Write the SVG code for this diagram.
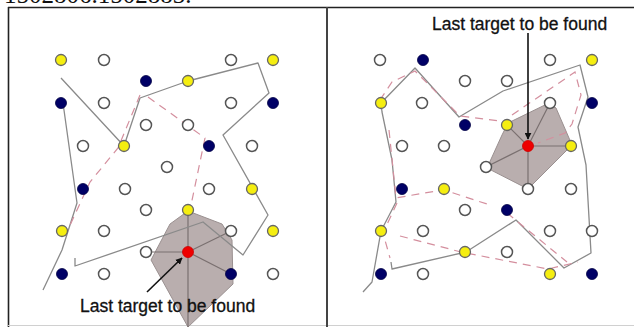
<svg xmlns="http://www.w3.org/2000/svg" width="634" height="327" viewBox="0 0 634 327">
<style>
.frame{stroke:#222;stroke-width:1.6;fill:none}
.path{stroke:#8a8a8a;stroke-width:1.3;fill:none;stroke-linejoin:round}
.dash{stroke:#d48f9e;stroke-width:1.2;fill:none;stroke-dasharray:8 6}
.poly{fill:#b9aeae;stroke:#9a9090;stroke-width:1}
.spoke{stroke:#7a7070;stroke-width:1.2;fill:none}
.w{fill:#fff;stroke:#555;stroke-width:1.5}
.y{fill:#f5ee10;stroke:#666;stroke-width:1.3}
.n{fill:#000066;stroke:#000044;stroke-width:0.8}
.r{fill:#ee0000;stroke:#cc0000;stroke-width:0.8}
.lbl{font-family:"Liberation Sans",Arial,sans-serif;font-size:17.5px;fill:#111;stroke:#111;stroke-width:0.3}
.arr{stroke:#111;stroke-width:1.6;fill:none}
</style>
<defs>
<marker id="ah" viewBox="0 0 10 10" refX="9" refY="5" markerWidth="7" markerHeight="7" orient="auto" markerUnits="userSpaceOnUse">
<path d="M0,0 L10,5 L0,10 z" fill="#111"/>
</marker>
</defs>
<rect width="634" height="327" fill="#fff"/>
<text x="4" y="3" font-family="'Liberation Serif',serif" font-size="25" fill="#111">1502806.1502883.</text>
<g id="frame">
<line class="frame" x1="8" y1="7.5" x2="634" y2="7.5"/>
<line class="frame" x1="8.5" y1="7" x2="8.5" y2="327"/>
<line x1="8" y1="325.5" x2="634" y2="325.5" stroke="#d0d0d0" stroke-width="1"/>
<line x1="327" y1="7" x2="327" y2="327" stroke="#444" stroke-width="2"/>
</g>
<g id="regions">
<polygon class="poly" points="188,211 222,224 232,240 233,284 188,327 151,260 170,224"/>
<polygon class="poly" points="508,123 549,103 556,108 572,145 528,189 487,168 502,135"/>
</g>
<g id="connectors">
<path class="spoke" d="M188,252 L188,211 M188,252 L231,231 M188,252 L146,252 M188,252 L231,274 M188,252 L188,327"/>
<path class="spoke" d="M528,146 L507,125 M528,146 L550,103 M528,146 L571,146 M528,146 L486,167 M528,146 L528,189"/>
<path class="path" d="M61,78 L124,146 L140,98 L188,81 L258,63 L269,93 L223,135 L268,215 L243,255 L203,222 L75,266 L75,258"/>
<path class="path" d="M63,103 L77,203 L62,250 L43,290"/>
<path class="path" d="M363,292 L372,282 L381,231 L396,202 L392,160 L382,112 L381,103 L415,68 L459,117 L503,91 L580,65 L588,97 L578,127 L586,165 L591,253 L564,268 L516,220 L466,252 L392,269 L391,262"/>
<path class="dash" d="M140,95 L118,148 L90,182 L65,236"/>
<path class="dash" d="M148,97 L180,120 L205,138 L190,210"/>
<path class="dash" d="M380,100 L392,82 L415,71 L460,116 L500,121"/>
<path class="dash" d="M512,115 L575,72 L581,95 L572,124 L565,133 L538,143"/>
<path class="dash" d="M389,130 L396,198 L424,193 L444,190 L490,205"/>
<path class="dash" d="M397,203 L383,233 L390,258"/>
<path class="dash" d="M400,236 L461,252 L548,269 L578,262"/>
<path class="dash" d="M507,213 L567,262"/>
<line class="arr" x1="147" y1="292" x2="182" y2="258" marker-end="url(#ah)"/>
<line class="arr" x1="528" y1="33" x2="528" y2="139" marker-end="url(#ah)"/>
</g>
<g id="left-nodes">
<g id="L1"><circle class="y" cx="61" cy="60" r="5.5"/></g>
<g id="L2"><circle class="w" cx="104" cy="60" r="5.5"/></g>
<g id="L3"><circle class="w" cx="231" cy="60" r="5.5"/></g>
<g id="L4"><circle class="y" cx="273" cy="60" r="5.5"/></g>
<g id="L5"><circle class="n" cx="146" cy="81" r="5.5"/></g>
<g id="L6"><circle class="y" cx="188" cy="81" r="5.5"/></g>
<g id="L7"><circle class="n" cx="61" cy="103" r="5.5"/></g>
<g id="L8"><circle class="w" cx="104" cy="103" r="5.5"/></g>
<g id="L9"><circle class="w" cx="231" cy="103" r="5.5"/></g>
<g id="L10"><circle class="n" cx="273" cy="103" r="5.5"/></g>
<g id="L11"><circle class="w" cx="146" cy="125" r="5.5"/></g>
<g id="L12"><circle class="w" cx="188" cy="125" r="5.5"/></g>
<g id="L13"><circle class="w" cx="83" cy="146" r="5.5"/></g>
<g id="L14"><circle class="y" cx="124" cy="146" r="5.5"/></g>
<g id="L15"><circle class="n" cx="209" cy="146" r="5.5"/></g>
<g id="L16"><circle class="w" cx="252" cy="146" r="5.5"/></g>
<g id="L17"><circle class="w" cx="167" cy="167" r="5.5"/></g>
<g id="L18"><circle class="n" cx="83" cy="189" r="5.5"/></g>
<g id="L19"><circle class="w" cx="125" cy="189" r="5.5"/></g>
<g id="L20"><circle class="w" cx="209" cy="189" r="5.5"/></g>
<g id="L21"><circle class="y" cx="252" cy="189" r="5.5"/></g>
<g id="L22"><circle class="w" cx="146" cy="210" r="5.5"/></g>
<g id="L23"><circle class="y" cx="188" cy="210" r="5.5"/></g>
<g id="L24"><circle class="y" cx="62" cy="231" r="5.5"/></g>
<g id="L25"><circle class="w" cx="104" cy="231" r="5.5"/></g>
<g id="L26"><circle class="w" cx="231" cy="231" r="5.5"/></g>
<g id="L27"><circle class="y" cx="273" cy="231" r="5.5"/></g>
<g id="L28"><circle class="w" cx="146" cy="252" r="5.5"/></g>
<g id="L29"><circle class="r" cx="188" cy="252" r="5.5"/></g>
<g id="L30"><circle class="n" cx="62" cy="274" r="5.5"/></g>
<g id="L31"><circle class="w" cx="104" cy="274" r="5.5"/></g>
<g id="L32"><circle class="n" cx="231" cy="274" r="5.5"/></g>
<g id="L33"><circle class="w" cx="273" cy="274" r="5.5"/></g>
</g>
<g id="right-nodes">
<g id="R1"><circle class="w" cx="380" cy="60" r="5.5"/></g>
<g id="R2"><circle class="n" cx="423" cy="60" r="5.5"/></g>
<g id="R3"><circle class="w" cx="550" cy="60" r="5.5"/></g>
<g id="R4"><circle class="y" cx="592" cy="60" r="5.5"/></g>
<g id="R5"><circle class="w" cx="465" cy="81" r="5.5"/></g>
<g id="R6"><circle class="w" cx="507" cy="81" r="5.5"/></g>
<g id="R7"><circle class="y" cx="381" cy="103" r="5.5"/></g>
<g id="R8"><circle class="w" cx="422" cy="103" r="5.5"/></g>
<g id="R9"><circle class="w" cx="550" cy="103" r="5.5"/></g>
<g id="R10"><circle class="n" cx="592" cy="103" r="5.5"/></g>
<g id="R11"><circle class="n" cx="465" cy="125" r="5.5"/></g>
<g id="R12"><circle class="y" cx="507" cy="125" r="5.5"/></g>
<g id="R13"><circle class="w" cx="402" cy="146" r="5.5"/></g>
<g id="R14"><circle class="w" cx="444" cy="146" r="5.5"/></g>
<g id="R15"><circle class="r" cx="528" cy="146" r="5.5"/></g>
<g id="R16"><circle class="y" cx="571" cy="146" r="5.5"/></g>
<g id="R17"><circle class="w" cx="486" cy="167" r="5.5"/></g>
<g id="R18"><circle class="n" cx="402" cy="189" r="5.5"/></g>
<g id="R19"><circle class="y" cx="444" cy="189" r="5.5"/></g>
<g id="R20"><circle class="w" cx="528" cy="189" r="5.5"/></g>
<g id="R21"><circle class="w" cx="571" cy="189" r="5.5"/></g>
<g id="R22"><circle class="w" cx="465" cy="210" r="5.5"/></g>
<g id="R23"><circle class="n" cx="507" cy="210" r="5.5"/></g>
<g id="R24"><circle class="y" cx="381" cy="231" r="5.5"/></g>
<g id="R25"><circle class="w" cx="423" cy="231" r="5.5"/></g>
<g id="R26"><circle class="w" cx="550" cy="231" r="5.5"/></g>
<g id="R27"><circle class="w" cx="592" cy="231" r="5.5"/></g>
<g id="R28"><circle class="y" cx="465" cy="252" r="5.5"/></g>
<g id="R29"><circle class="w" cx="507" cy="252" r="5.5"/></g>
<g id="R30"><circle class="n" cx="381" cy="274" r="5.5"/></g>
<g id="R31"><circle class="w" cx="423" cy="274" r="5.5"/></g>
<g id="R32"><circle class="y" cx="550" cy="274" r="5.5"/></g>
<g id="R33"><circle class="n" cx="592" cy="274" r="5.5"/></g>
</g>
<g id="labels">
<text class="lbl" x="80" y="312">Last target to be found</text>
<text class="lbl" x="432" y="30">Last target to be found</text>
</g>
</svg>
